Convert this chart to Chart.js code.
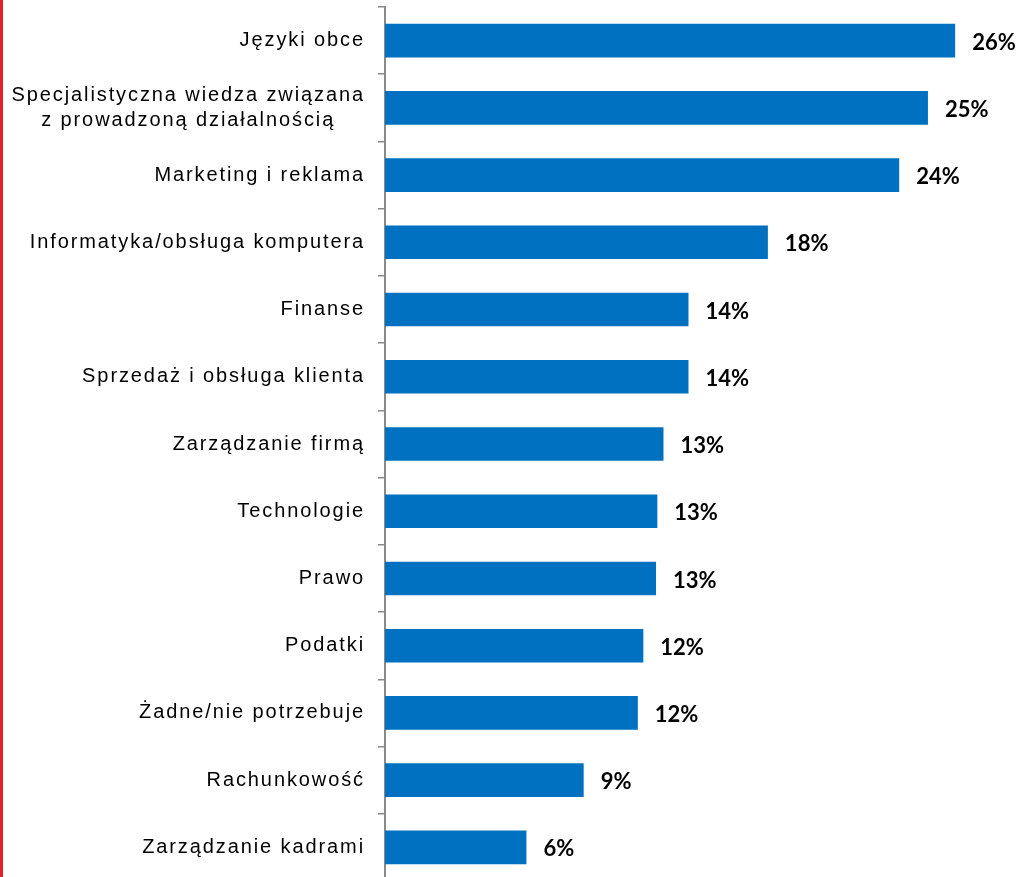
<!DOCTYPE html>
<html lang="pl">
<head>
<meta charset="utf-8">
<title>Potrzebne umiejętności</title>
<script src="https://cdn.jsdelivr.net/npm/chart.js@4.4.1/dist/chart.umd.min.js"></script>
<style>
  html, body { margin: 0; padding: 0; width: 1016px; height: 877px; overflow: hidden; background: #fff; }
  #wrap { position: relative; width: 1016px; height: 884px; }
  #redLine { position: absolute; left: 0; top: 0; width: 3px; height: 877px; background: #e3212b; z-index: 2; }
</style>
</head>
<body>
<div id="wrap">
  <div id="redLine"></div>
  <canvas id="skillsChart"></canvas>
</div>
<script>
// Categories (second line of the long label padded so both lines sit centred)
const categories = [
  'Języki obce',
  ['Specjalistyczna wiedza związana', 'z prowadzoną działalnością    '],
  'Marketing i reklama',
  'Informatyka/obsługa komputera',
  'Finanse',
  'Sprzedaż i obsługa klienta',
  'Zarządzanie firmą',
  'Technologie',
  'Prawo',
  'Podatki',
  'Żadne/nie potrzebuje',
  'Rachunkowość',
  'Zarządzanie kadrami'
];

// Bar lengths in percent
const shares = [26.0, 24.76, 23.45, 17.46, 13.84, 13.84, 12.70, 12.42, 12.36, 11.78, 11.53, 9.06, 6.45];

// Printed labels next to the bars
const shareLabels = ['26%', '25%', '24%', '18%', '14%', '14%', '13%', '13%', '13%', '12%', '12%', '9%', '6%'];

const axisGray = '#8a8a8a';

// Category labels are drawn with wide tracking like the original
const trackingPlugin = {
  id: 'tracking',
  beforeDraw(chart) {
    chart.ctx.letterSpacing = '1.9px';
  },
  afterDatasetsDraw(chart) {
    const ctx = chart.ctx;
    const meta = chart.getDatasetMeta(0);
    ctx.save();
    ctx.letterSpacing = '0px';
    ctx.font = 'bold 22px Lato';
    ctx.fillStyle = '#000';
    ctx.textAlign = 'left';
    ctx.textBaseline = 'middle';
    meta.data.forEach((bar, i) => {
      ctx.fillText(shareLabels[i], bar.x + 17, bar.y + 2);
    });
    ctx.restore();
  }
};

const ctx = document.getElementById('skillsChart').getContext('2d');
const skillsChart = new Chart(ctx, {
  type: 'bar',
  data: {
    labels: categories,
    datasets: [{
      label: 'Udział',
      data: shares,
      backgroundColor: '#0070c0',
      borderWidth: 0,
      barPercentage: 0.5,
      categoryPercentage: 1
    }]
  },
  options: {
    indexAxis: 'y',
    responsive: true,
    maintainAspectRatio: false,
    animation: false,
    layout: {
      padding: { top: 7, bottom: 3, left: 0, right: 17 }
    },
    plugins: {
      legend: { display: false },
      tooltip: { enabled: false }
    },
    scales: {
      x: {
        display: false,
        min: 0,
        max: 28
      },
      y: {
        afterFit(scale) {
          scale.width = 385;
          scale.paddingTop = 0;
          scale.paddingBottom = 0;
        },
        grid: {
          display: true,
          drawOnChartArea: false,
          drawTicks: true,
          tickLength: 7,
          color: axisGray,
          lineWidth: 1.5,
          offset: true
        },
        border: {
          display: true,
          color: axisGray,
          width: 2
        },
        ticks: {
          autoSkip: false,
          padding: 13,
          color: '#000',
          font: { family: '"Liberation Sans", Arial, sans-serif', size: 20, lineHeight: 1.25 }
        }
      }
    }
  },
  plugins: [trackingPlugin]
});
</script>
</body>
</html>
